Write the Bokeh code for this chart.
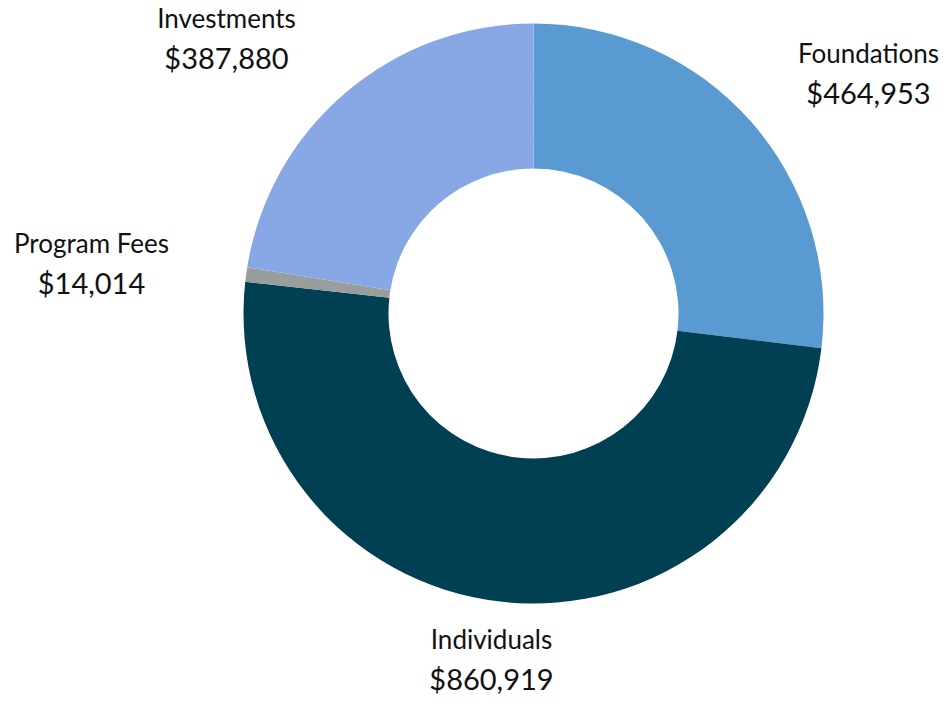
import numpy as np
from bokeh.plotting import figure
from bokeh.models import Range1d, ColumnDataSource
from bokeh.core.properties import value
from bokeh.embed import file_html
from bokeh.resources import INLINE

# Data
categories = ["Foundations", "Individuals", "Program Fees", "Investments"]
amounts = [464953, 860919, 14014, 387880]
colors = ["#5A9AD2", "#013F52", "#999E9C", "#87A7E5"]

# Label anchors (screen-like coords; y measured downward)
label_x = [868, 491, 91, 226]
label_y = [52, 638, 242, 17]

W, H = 943, 699
p = figure(width=W, height=H, output_backend="svg", toolbar_location=None,
           x_range=Range1d(0, W), y_range=Range1d(-H, 0),
           min_border=0, outline_line_color=None, background_fill_color="white")
p.axis.visible = False
p.grid.visible = False

vals = np.array(amounts, dtype=float)
frac = vals / vals.sum()
ends = np.cumsum(frac) * 2 * np.pi
starts = np.concatenate([[0], ends[:-1]])
start_angle = np.pi / 2 - starts
end_angle = np.pi / 2 - ends

src = ColumnDataSource(dict(cat=categories, start=start_angle, end=end_angle, color=colors))
p.annular_wedge(x=533, y=-313, inner_radius=145, outer_radius=290,
                start_angle="start", end_angle="end", direction="clock",
                fill_color="color", line_color=None, source=src)

names_src = ColumnDataSource(dict(x=label_x, y=[-v for v in label_y], t=categories))
vals_src = ColumnDataSource(dict(x=label_x, y=[-(v + 40) for v in label_y],
                                 t=[f"${a:,}" for a in amounts]))
p.text(x="x", y="y", text="t", source=names_src, text_align="center",
       text_baseline="middle", text_font=value("Lato"), text_font_size="26px",
       text_color="#111111")
p.text(x="x", y="y", text="t", source=vals_src, text_align="center",
       text_baseline="middle", text_font=value("Lato"), text_font_size="29px",
       text_color="#111111")

open("out.html", "w").write(file_html(p, INLINE))
